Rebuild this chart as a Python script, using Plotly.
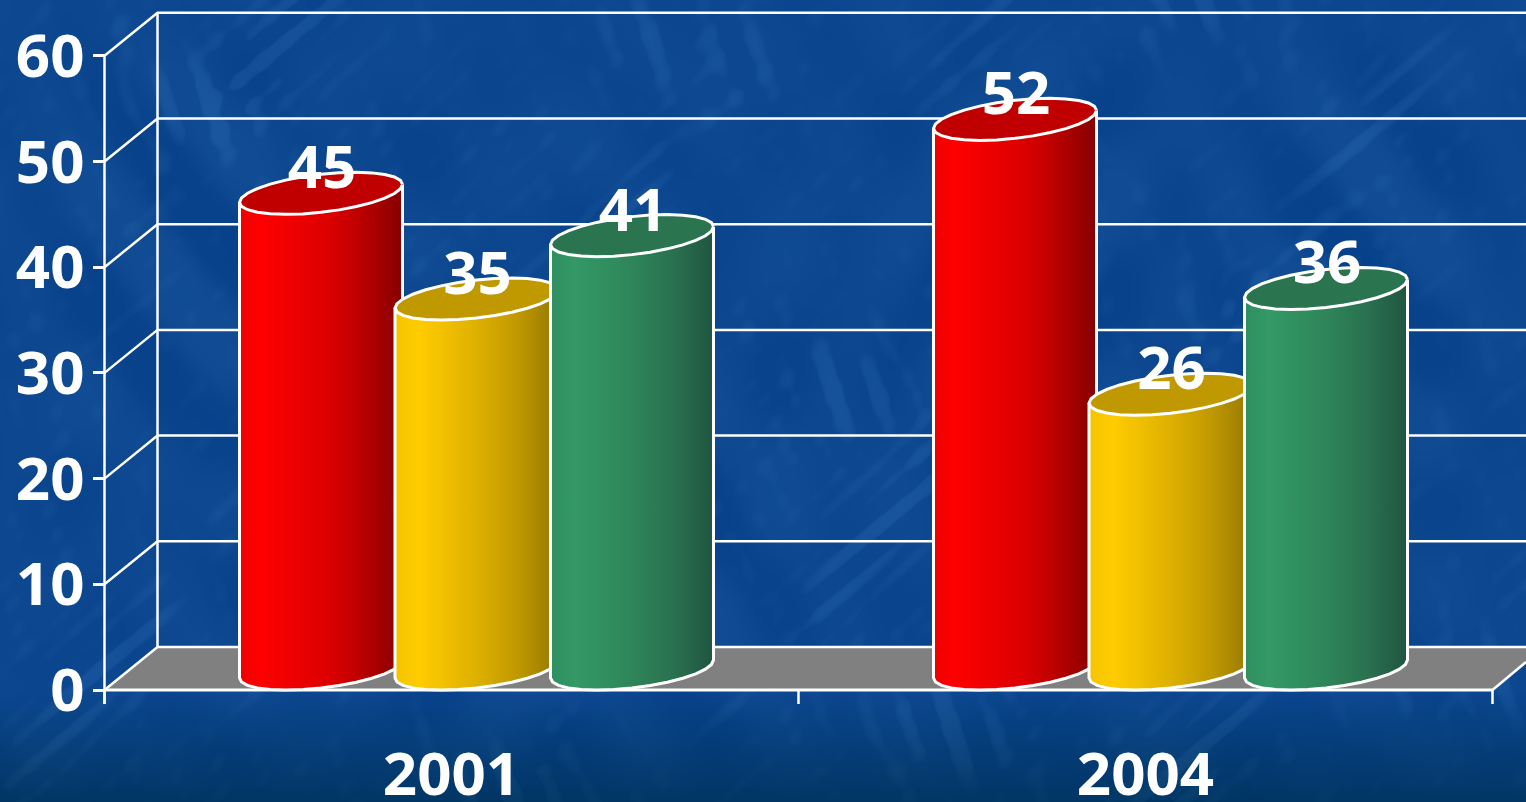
import base64, struct, zlib
import numpy as np
import plotly.graph_objects as go

# ---- data ----
categories = ["2001", "2004"]
red_values = [45, 52]
yellow_values = [35, 26]
green_values = [41, 36]
y_ticks = [0, 10, 20, 30, 40, 50, 60]

# ---- styles / geometry (pixels) ----
W, H = 1526, 802
X0_PX, CAT_PX = 451.5, 694.0      # pixel of category 0, pixels per category
Y0_PX, UNIT_PX = 690.0, 10.57     # pixel of value 0, pixels per value unit
DEPTH_X, DEPTH_Y = 53.0, 43.0
SLOT_PX, SHIFT_PX, HALF_W = 155.5, 25.0, 81.5
ELL_B, ELL_K, ELL_H = 19.0, -9.0, 21.0
FONT = "Noto Sans"
WHITE = "#ffffff"

SERIES = [
    ("red", red_values, -1, "#c00000",
     [[0, "#ee0000"], [0.12, "#ff0000"], [0.55, "#dc0000"], [0.72, "#c00000"], [1, "#860000"]]),
    ("yellow", yellow_values, 0, "#c09900",
     [[0, "#f5c400"], [0.15, "#ffcc00"], [0.5, "#deb000"], [0.75, "#c09900"], [1, "#957700"]]),
    ("green", green_values, 1, "#2a7550",
     [[0, "#2f8e60"], [0.15, "#339966"], [0.5, "#2e8559"], [0.75, "#2a7150"], [1, "#205540"]]),
]


def dx(px):
    return px / CAT_PX


def dy(px):
    return px / UNIT_PX


def texture_uri():
    yy, xx = np.mgrid[0:H, 0:W].astype(float)
    u = xx * 0.64 - yy * 0.77
    v = xx * 0.77 + yy * 0.64
    n = np.zeros_like(xx)
    coarse = np.zeros_like(xx)
    for i in range(1, 61):
        fu = 0.022 + 0.0041 * ((i * 7) % 11)
        fv = 0.07 + 0.0113 * ((i * 5) % 13)
        n += np.sin(u * fu + v * fv + i * 2.399) * np.sin(v * fv * 0.43 - u * fu * 1.9 + i * 1.1)
        coarse += np.sin(xx * (0.018 + 0.0053 * ((i * 3) % 7)) * (1 if i % 2 else -1)
                         + yy * (0.02 + 0.0047 * ((i * 4) % 5)) + i * 0.77)
    n = n / n.std()
    coarse = coarse / coarse.std()
    bright = np.tanh(0.55 * np.clip(n - 0.3, 0, None)) * 0.75 + np.tanh(coarse * 0.6) * 0.35
    base = np.array([12.0, 71.0, 144.0])
    delta = np.array([14.0, 15.0, 14.0])
    rgb = base + bright[..., None] * delta
    fade = np.clip((yy - 690) / 112, 0, 1)[..., None]
    dark = np.array([1.0, 54.0, 100.0]) + bright[..., None] * delta * 0.6
    rgb = rgb * (1 - fade) + dark * fade
    arr = np.clip(rgb, 0, 255).astype(np.uint8)
    raw = b"".join(b"\x00" + arr[r].tobytes() for r in range(H))

    def chunk(tag, data):
        body = tag + data
        return struct.pack(">I", len(data)) + body + struct.pack(">I", zlib.crc32(body))

    png = (b"\x89PNG\r\n\x1a\n"
           + chunk(b"IHDR", struct.pack(">IIBBBBB", W, H, 8, 2, 0, 0, 0))
           + chunk(b"IDAT", zlib.compress(raw, 6))
           + chunk(b"IEND", b""))
    return "data:image/png;base64," + base64.b64encode(png).decode()


fig = go.Figure()


def line(xs, ys, width=2.5):
    fig.add_trace(go.Scatter(x=xs, y=ys, mode="lines", line=dict(color=WHITE, width=width),
                             hoverinfo="skip", showlegend=False))


x_left, x_right = -0.5, 1.5
x_edge = (W - X0_PX) / CAT_PX
top_tick = y_ticks[-1]

# floor
fig.add_trace(go.Scatter(
    x=[x_left, x_left + dx(DEPTH_X), x_edge, x_edge, x_right],
    y=[0, dy(DEPTH_Y), dy(DEPTH_Y), dy(28), 0],
    mode="lines", fill="toself", fillcolor="#808080", line=dict(width=0),
    hoverinfo="skip", showlegend=False))

# walls and gridlines
for t in y_ticks:
    line([x_left, x_left + dx(DEPTH_X), x_edge], [t, t + dy(DEPTH_Y), t + dy(DEPTH_Y)])
line([x_left, x_left], [-dy(14), top_tick])
line([x_left + dx(DEPTH_X)] * 2, [dy(DEPTH_Y), top_tick + dy(DEPTH_Y)])
line([x_left, x_right], [0, 0], 3)
line([x_right, x_edge], [0, dy(28)], 2.5)
for tx in (x_left, 0.5, x_right):
    line([tx, tx], [0, -dy(14)])

# cylinders
t_low = np.linspace(0, np.pi, 15)
t_all = np.linspace(0, 2 * np.pi, 29)
for c, cat in enumerate(categories):
    for name, values, slot, top_col, scale in SERIES:
        v = values[c]
        cx = c + dx(slot * SLOT_PX + SHIFT_PX)
        lx = cx + dx(HALF_W) * np.cos(t_low)
        ly = dy(ELL_H) - dy(ELL_B) * np.sin(t_low) - dy(ELL_K) * np.cos(t_low)
        rim_r = v + dy(ELL_H) - dy(ELL_K)
        rim_l = v + dy(ELL_H) + dy(ELL_K)
        body_x = [cx + dx(HALF_W)] + list(lx) + [cx - dx(HALF_W)]
        body_y = [rim_r] + list(ly) + [rim_l]
        fig.add_trace(go.Scatter(
            x=body_x, y=body_y, mode="lines", fill="toself",
            fillgradient=dict(type="horizontal", colorscale=scale),
            line=dict(color=WHITE, width=3), name=f"{name} {cat}",
            hoverinfo="skip", showlegend=False))
        tx = cx + dx(HALF_W) * np.cos(t_all)
        ty = v + dy(ELL_H) - dy(ELL_B) * np.sin(t_all) - dy(ELL_K) * np.cos(t_all)
        fig.add_trace(go.Scatter(
            x=tx, y=ty, mode="lines", fill="toself", fillcolor=top_col,
            line=dict(color=WHITE, width=3), hoverinfo="skip", showlegend=False))

# value labels
for name, values, slot, top_col, scale in SERIES:
    fig.add_trace(go.Scatter(
        x=[c + dx(slot * SLOT_PX + SHIFT_PX) + dx(1) for c in range(len(categories))],
        y=[val + dy(41) for val in values],
        mode="text", text=[str(val) for val in values], textposition="middle center",
        textfont=dict(family=FONT, size=60, color=WHITE, weight=700),
        hoverinfo="skip", showlegend=False))

fig.update_layout(
    width=W, height=H, margin=dict(l=0, r=0, t=0, b=0, autoexpand=False), autosize=False,
    paper_bgcolor="#0e4992", plot_bgcolor="rgba(0,0,0,0)", showlegend=False,
    images=[dict(source=texture_uri(), xref="paper", yref="paper", x=0, y=1, sizex=1, sizey=1,
                 sizing="stretch", layer="below")],
    xaxis=dict(range=[-X0_PX / CAT_PX, (W - X0_PX) / CAT_PX], domain=[0, 1], automargin=False,
               tickmode="array", tickvals=list(range(len(categories))), ticktext=categories,
               ticks="", showgrid=False, zeroline=False, showline=False,
               anchor="free", position=1 - Y0_PX / H, ticklabelstandoff=44,
               tickfont=dict(family=FONT, size=60, color=WHITE, weight=700)),
    yaxis=dict(range=[-(H - Y0_PX) / UNIT_PX, Y0_PX / UNIT_PX], domain=[0, 1], automargin=False,
               tickmode="array", tickvals=y_ticks, ticks="outside", ticklen=12, tickwidth=2.5,
               tickcolor=WHITE, showgrid=False, zeroline=False, showline=False,
               anchor="free", position=(X0_PX - CAT_PX / 2) / W, ticklabelstandoff=-4,
               tickfont=dict(family=FONT, size=60, color=WHITE, weight=700)),
)

fig.write_html("out.html", config=dict(displayModeBar=False),
               post_script="document.body.style.margin='0';document.body.style.overflow='hidden';")
